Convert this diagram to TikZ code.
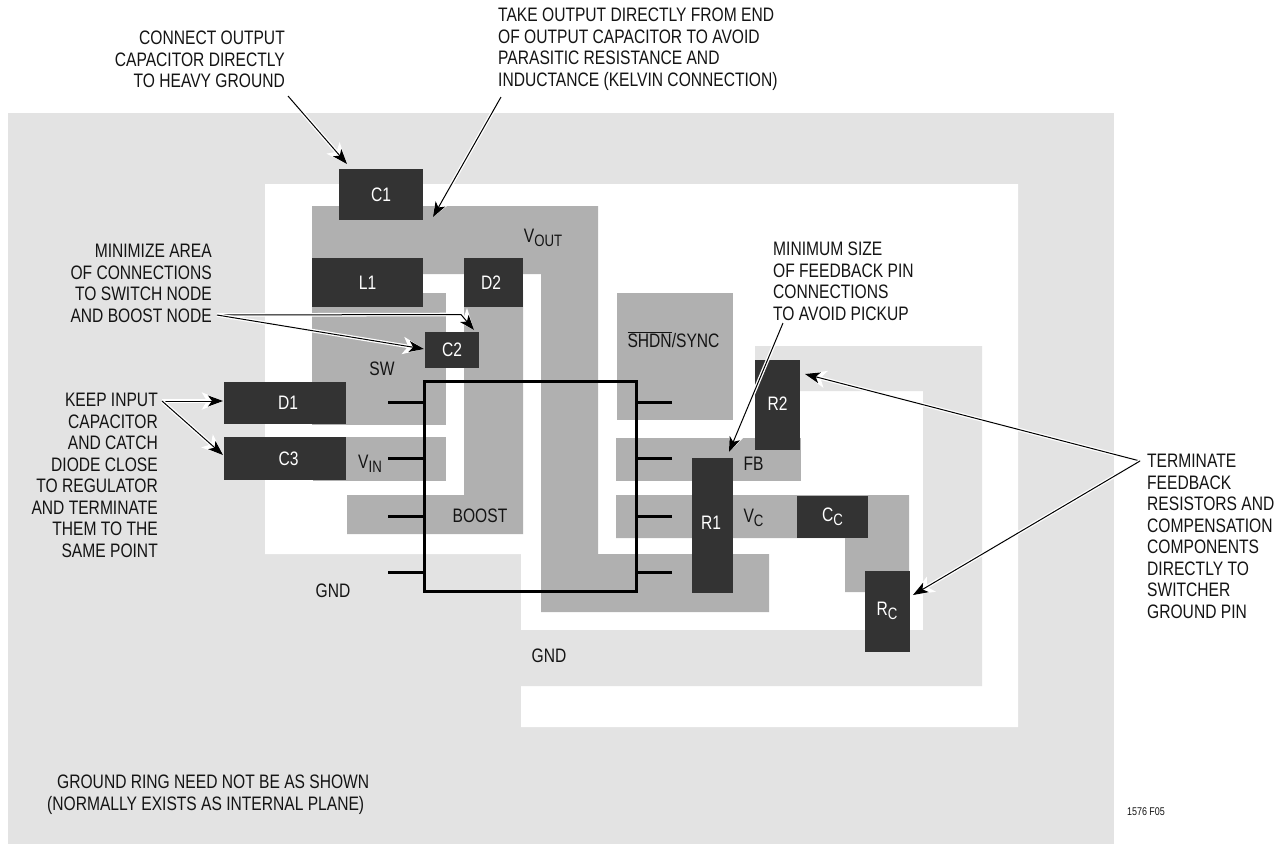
\documentclass[tikz,border=0pt]{standalone}
\usepackage{fontspec}
\setmainfont[FakeStretch=0.80]{Liberation Sans}
\usetikzlibrary{arrows.meta}
\definecolor{gndgray}{HTML}{E3E3E3}
\definecolor{tracegray}{HTML}{B0B0B0}
\definecolor{partdark}{HTML}{333333}
\newcommand{\subtxt}[1]{\raisebox{-3.5pt}{\fontsize{16.5}{16.5}\selectfont #1}}
\tikzset{
  x=1pt,y=-1pt,
  textfont/.style={font=\fontsize{19.5}{21.5}\selectfont},
  part/.style={fill=partdark,text=white,inner sep=0pt,outer sep=0pt,textfont},
  lbl/.style={inner sep=0pt,text=black!92,textfont},
  note/.style={inner sep=0pt,text=black!92,textfont},
  gndfill/.style={fill=gndgray},
  tracefill/.style={fill=tracegray},
  pinline/.style={draw=black,line width=3pt},
  callout/.style={draw=black,line width=1pt,line join=miter,
    -{Stealth[length=15pt,width=11pt,inset=4pt]},
    preaction={draw=white,line width=3.6pt,-{Stealth[length=21pt,width=17pt,inset=5pt]}}},
}
\begin{document}
\begin{tikzpicture}
\useasboundingbox (0,0) rectangle (1286,844);
\fill[white] (0,0) rectangle (1286,844);
% ground plane and clearance
\fill[gndfill] (8,113) rectangle (1114,844);
\fill[white] (265,184) -- (1018,184) -- (1018,727) -- (521,727) -- (521,554) -- (265,554) -- cycle;
\fill[gndfill] (755,346) -- (982,346) -- (982,686) -- (521,686) -- (521,630) -- (923,630) -- (923,391) -- (755,391) -- cycle;
% copper traces
\fill[tracefill] (312,206) -- (598,206) -- (598,554) -- (769,554) -- (769,612) -- (541,612) -- (541,274) -- (312,274) -- cycle;
\fill[tracefill] (312,293) rectangle (446,425);
\fill[tracefill] (313,437) rectangle (446,481);
\fill[tracefill] (464,290) -- (523,290) -- (523,534) -- (347,534) -- (347,495) -- (464,495) -- cycle;
\fill[tracefill] (617,293) rectangle (733,420);
\fill[tracefill] (616,438) rectangle (801,481);
\fill[tracefill] (616,495) -- (909,495) -- (909,592) -- (845,592) -- (845,538) -- (616,538) -- cycle;
% components
\node[part,minimum width=84pt,minimum height=51pt] (C1) at (381,194.5) {C1};
\node[part,minimum width=111pt,minimum height=49pt] (L1) at (367.5,282.5) {L1};
\node[part,minimum width=59pt,minimum height=49pt] (D2) at (493.5,282.5) {D2\hspace*{5pt}};
\node[part,minimum width=54pt,minimum height=36pt] (C2) at (452,350) {C2};
\node[part,minimum width=122pt,minimum height=42pt] (D1) at (285,403) {\hspace*{6pt}D1};
\node[part,minimum width=122pt,minimum height=43pt] (C3) at (285,458.5) {\hspace*{7pt}C3};
\node[part,minimum width=41pt,minimum height=135pt] (R1) at (712.5,525.5) {\raisebox{4.5pt}{R1}\hspace*{3pt}};
\node[part,minimum width=45pt,minimum height=90pt] (R2) at (777.5,405) {\raisebox{2pt}{R2}};
\node[part,minimum width=71pt,minimum height=42pt] (CC) at (832.5,517) {C\subtxt{C}};
\node[part,minimum width=45pt,minimum height=81pt] (RC) at (887,611) {R\subtxt{C}};
% regulator body and pins
\node[draw=black,line width=3pt,inner sep=0pt,minimum width=212pt,minimum height=210pt] (chip) at (530.5,486) {};
\coordinate (pinSW) at (388,402);
\coordinate (pinVIN) at (388,458);
\coordinate (pinBOOST) at (388,516);
\coordinate (pinGND) at (388,572);
\coordinate (pinSHDN) at (672,402);
\coordinate (pinFB) at (672,458);
\coordinate (pinVC) at (672,516);
\coordinate (pinOUT) at (672,572);
\draw[pinline] (pinSW) -- (chip.west |- pinSW);
\draw[pinline] (pinVIN) -- (chip.west |- pinVIN);
\draw[pinline] (pinBOOST) -- (chip.west |- pinBOOST);
\draw[pinline] (pinGND) -- (chip.west |- pinGND);
\draw[pinline] (pinSHDN) -- (chip.east |- pinSHDN);
\draw[pinline] (pinFB) -- (chip.east |- pinFB);
\draw[pinline] (pinVC) -- (chip.east |- pinVC);
\draw[pinline] (pinOUT) -- (chip.east |- pinOUT);
% pin and net labels
\node[lbl] (lVOUT) at (543,238) {V\subtxt{OUT}};
\node[lbl] (lSW) at (382,369) {SW};
\node[lbl] (lVIN) at (370,464) {V\subtxt{IN}};
\node[lbl] (lBOOST) at (480,516) {BOOST};
\node[lbl] (lGNDa) at (333,591) {GND};
\node[lbl] (lGNDb) at (549,656) {GND};
\node[lbl] (lSHDN) at (673.5,340) {\leavevmode\vbox{\hrule height .8pt \kern 1.6pt \hbox{SHDN}}/SYNC};
\node[lbl] (lFB) at (753.5,464) {FB};
\node[lbl] (lVC) at (753.5,518) {V\subtxt{C}};
% notes
\node[note,align=right,anchor=north east] (nC1) at (285,31) {CONNECT OUTPUT\\CAPACITOR DIRECTLY\\TO HEAVY GROUND};
\node[note,align=left,anchor=north west] (nOUT) at (498,8) {TAKE OUTPUT DIRECTLY FROM END\\OF OUTPUT CAPACITOR TO AVOID\\PARASITIC RESISTANCE AND\\INDUCTANCE (KELVIN CONNECTION)};
\node[note,align=right,anchor=north east] (nMIN) at (212,244) {MINIMIZE AREA\\OF CONNECTIONS\\TO SWITCH NODE\\AND BOOST NODE};
\node[note,align=right,anchor=north east] (nKEEP) at (158,393) {KEEP INPUT\\CAPACITOR\\AND CATCH\\DIODE CLOSE\\TO REGULATOR\\AND TERMINATE\\THEM TO THE\\SAME POINT};
\node[note,align=left,anchor=north west] (nFB) at (773,242) {MINIMUM SIZE\\OF FEEDBACK PIN\\CONNECTIONS\\TO AVOID PICKUP};
\node[note,align=left,anchor=north west] (nTERM) at (1147,454) {TERMINATE\\FEEDBACK\\RESISTORS AND\\COMPENSATION\\COMPONENTS\\DIRECTLY TO\\SWITCHER\\GROUND PIN};
\node[note,align=left,anchor=north west] (nRING) at (47,775) {\hspace*{10pt}GROUND RING NEED NOT BE AS SHOWN\\(NORMALLY EXISTS AS INTERNAL PLANE)};
\node[inner sep=0pt,text=black!92,font=\fontsize{11.2}{13}\selectfont] (nID) at (1146,812) {1576 F05};
% callouts
\coordinate (sC1) at (288,96);
\coordinate (tC1) at (347,164);
\coordinate (sOUT) at (501,97);
\coordinate (tOUT) at (433,217);
\coordinate (sMIN) at (217,315);
\coordinate (bMIN) at (461,314.5);
\coordinate (tMINa) at (474,330);
\coordinate (tMINb) at (424,349);
\coordinate (sKEEP) at (162,401);
\coordinate (tD1) at (223,401);
\coordinate (tC3) at (223,455);
\coordinate (sFB) at (783,323);
\coordinate (tFB) at (729,452);
\coordinate (sTERM) at (1140,461);
\coordinate (tR2) at (805,374);
\coordinate (tRC) at (913,595);
\draw[callout] (sC1) -- (tC1);
\draw[callout] (sOUT) -- (tOUT);
\draw[callout] (sMIN) -- (bMIN) -- (tMINa);
\draw[callout] (sMIN) -- (tMINb);
\draw[callout] (sKEEP) -- (tD1);
\draw[callout] (sKEEP) -- (tC3);
\draw[callout] (sFB) -- (tFB);
\draw[callout] (sTERM) -- (tR2);
\draw[callout] (sTERM) -- (tRC);
\end{tikzpicture}
\end{document}
